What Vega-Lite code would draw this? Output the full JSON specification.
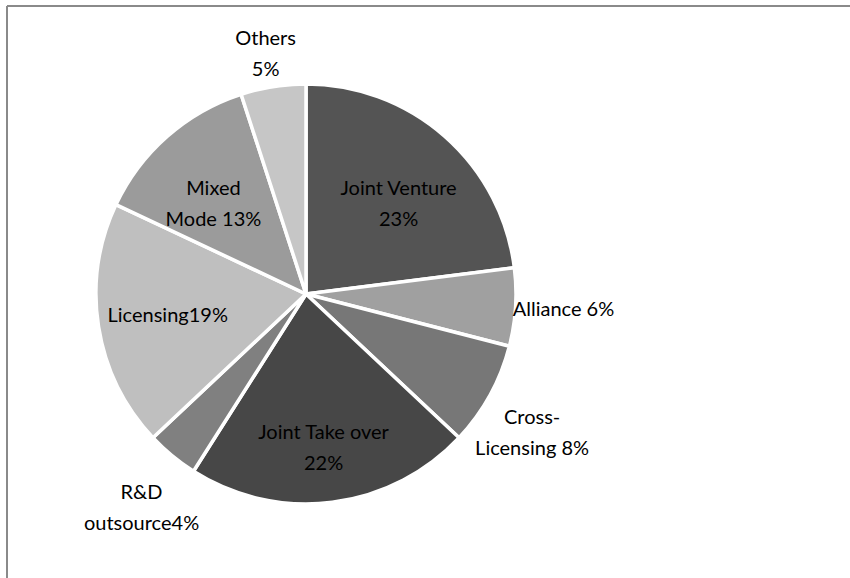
{
  "$schema": "https://vega.github.io/schema/vega-lite/v6.json",
  "background": "white",
  "padding": {"left": 6, "top": 5, "right": 0, "bottom": 0},
  "bounds": "flush",
  "spacing": 0,
  "config": {"view": {"stroke": null}},
  "hconcat": [
    {
      "width": 598,
      "height": 576,
      "view": {"stroke": "#8a8a8a", "strokeWidth": 2, "strokeDash": [598, 1174, 576, 0]},
      "data": {
        "values": [
          {"category": "Joint Venture", "label": "Joint Venture\n23%", "share": 23, "rank": 1},
          {"category": "Alliance", "label": "Alliance 6%", "share": 6, "rank": 2},
          {"category": "Cross-Licensing", "label": "Cross-\nLicensing 8%", "share": 8, "rank": 3},
          {"category": "Joint Take over", "label": "Joint Take over\n22%", "share": 22, "rank": 4},
          {"category": "R&D outsource", "label": "R&D\noutsource4%", "share": 4, "rank": 5},
          {"category": "Licensing", "label": "Licensing19%", "share": 19, "rank": 6},
          {"category": "Mixed Mode", "label": "Mixed\nMode 13%", "share": 13, "rank": 7},
          {"category": "Others", "label": "Others\n5%", "share": 5, "rank": 8}
        ]
      },
      "encoding": {
        "theta": {"field": "share", "type": "quantitative", "stack": true},
        "order": {"field": "rank", "type": "quantitative"}
      },
      "layer": [
        {
          "mark": {"type": "arc", "outerRadius": 210, "stroke": "white", "strokeWidth": 3.5},
          "encoding": {
            "color": {
              "field": "category",
              "type": "nominal",
              "scale": {
                "domain": ["Joint Venture", "Alliance", "Cross-Licensing", "Joint Take over", "R&D outsource", "Licensing", "Mixed Mode", "Others"],
                "range": ["#545454", "#a0a0a0", "#777777", "#474747", "#808080", "#bfbfbf", "#9b9b9b", "#c6c6c6"]
              },
              "legend": null
            }
          }
        },
        {
          "mark": {"type": "text", "radius": 140, "font": "Lato", "fontSize": 20, "lineHeight": 31, "lineBreak": "\n", "fill": "#000000", "align": "center", "baseline": "middle"},
          "encoding": {
            "text": {"condition": {"test": "datum.share < 10", "value": ""}, "field": "label"}
          }
        },
        {
          "mark": {"type": "text", "radius": 258, "font": "Lato", "fontSize": 20, "lineHeight": 31, "lineBreak": "\n", "fill": "#000000", "align": "center", "baseline": "middle"},
          "encoding": {
            "text": {"condition": {"test": "datum.share >= 10", "value": ""}, "field": "label"}
          }
        }
      ]
    },
    {
      "width": 260,
      "height": 576,
      "view": {"stroke": "#8a8a8a", "strokeWidth": 2, "strokeDash": [260, 3000]},
      "data": {"values": []},
      "mark": {"type": "text", "text": ""},
      "encoding": {}
    }
  ]
}
